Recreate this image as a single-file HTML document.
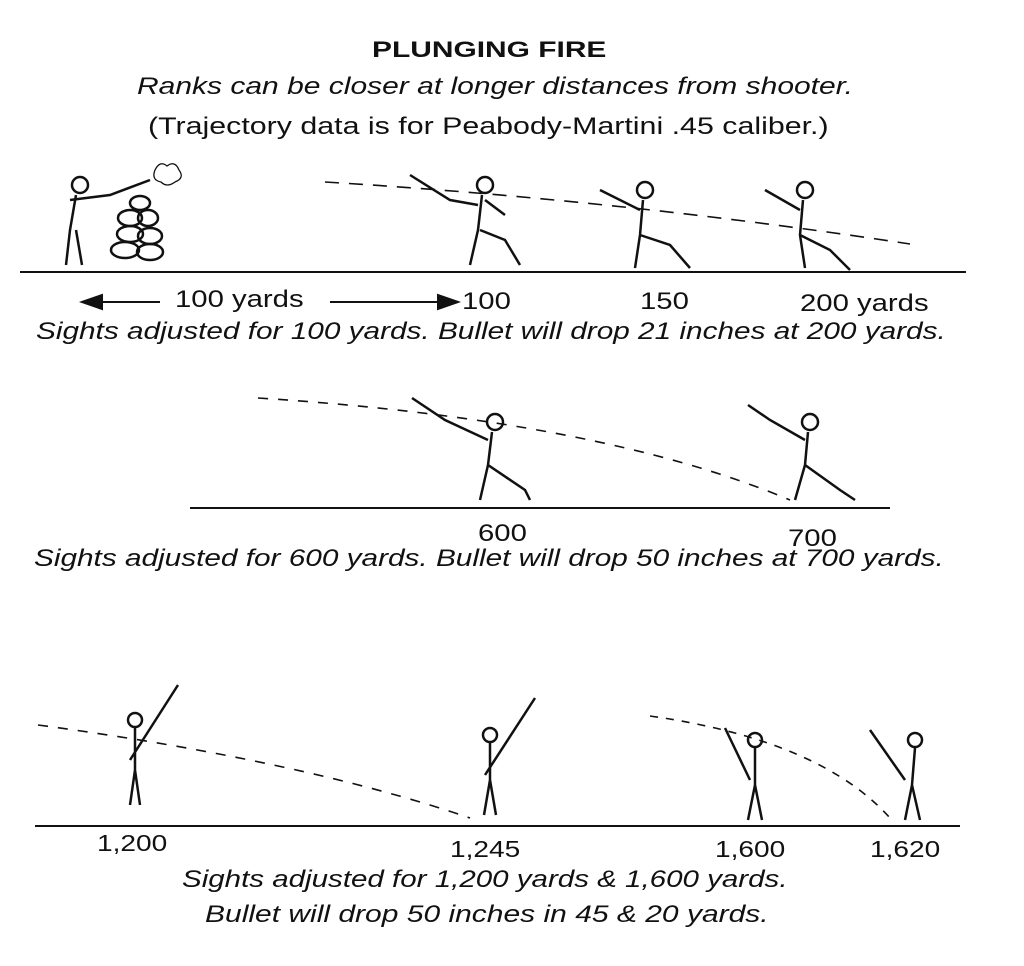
<!DOCTYPE html>
<html><head><style>
body{margin:0;background:#fff;}
.t{position:absolute;font-family:"Liberation Sans",sans-serif;color:#111;white-space:nowrap;transform:scaleX(1.22);transform-origin:0 0;}
.i{font-style:italic;}
</style></head><body>
<div style="position:relative;width:1024px;height:966px;overflow:hidden;">
<svg width="1024" height="966" style="position:absolute;left:0;top:0" stroke="#111" fill="none" stroke-width="2">
<line x1="20" y1="272" x2="966" y2="272"/>
<line x1="190" y1="508" x2="890" y2="508"/>
<line x1="35" y1="826" x2="960" y2="826"/>
<path d="M325 182 Q620 200 910 244" stroke-dasharray="14,10" stroke-width="1.6"/>
<path d="M258 398 Q600 420 790 500" stroke-dasharray="10,10" stroke-width="1.6"/>
<path d="M38 725 Q300 760 470 818" stroke-dasharray="10,10" stroke-width="1.6"/>
<path d="M650 716 Q820 740 890 818" stroke-dasharray="8,8" stroke-width="1.6"/>
<line x1="95" y1="302" x2="160" y2="302"/>
<polygon points="82,302 102,295 102,309" fill="#111"/>
<line x1="330" y1="302" x2="440" y2="302"/>
<polygon points="458,302 438,295 438,309" fill="#111"/>
<g stroke-width="2.5">
<circle cx="80" cy="185" r="8"/><path d="M76 195 L70 230 L66 265 M76 230 L82 265 M70 200 L110 195 L150 180"/>
<ellipse cx="125" cy="250" rx="14" ry="8"/><ellipse cx="150" cy="252" rx="13" ry="8"/><ellipse cx="130" cy="234" rx="13" ry="8"/><ellipse cx="150" cy="236" rx="12" ry="8"/><ellipse cx="130" cy="218" rx="12" ry="8"/><ellipse cx="148" cy="218" rx="10" ry="8"/><ellipse cx="140" cy="203" rx="10" ry="7"/>
<path d="M155 170 q5 -10 12 -4 q8 -6 12 4 q6 8 -4 12 q-8 6 -14 0 q-10 -2 -6 -12" stroke-width="1.3"/>
</g>
<g stroke-width="2.5">
<circle cx="485" cy="185" r="8"/><path d="M482 195 L478 230 L470 265 M480 230 L505 240 L520 265 M478 205 L450 200 L410 175 M485 200 L505 215"/>
<circle cx="645" cy="190" r="8"/><path d="M643 200 L640 235 L635 268 M640 235 L670 245 L690 268 M640 210 L600 190"/>
<circle cx="805" cy="190" r="8"/><path d="M803 200 L800 235 L805 268 M800 235 L830 250 L850 270 M800 210 L765 190"/>
<circle cx="495" cy="422" r="8"/><path d="M492 432 L488 465 L480 500 M488 465 L525 490 L530 500 M488 440 L445 420 L412 398"/>
<circle cx="810" cy="422" r="8"/><path d="M808 432 L805 465 L795 500 M805 465 L840 490 L855 500 M805 440 L770 420 L748 405"/>
<circle cx="135" cy="720" r="7"/><path d="M135 728 L135 770 L130 805 M135 770 L140 805 M130 760 L178 685"/>
<circle cx="490" cy="735" r="7"/><path d="M490 743 L490 780 L484 815 M490 780 L496 815 M485 775 L535 698"/>
<circle cx="755" cy="740" r="7"/><path d="M755 748 L755 785 L748 820 M755 785 L762 820 M750 780 L725 728"/>
<circle cx="915" cy="740" r="7"/><path d="M915 748 L912 785 L905 820 M912 785 L920 820 M905 780 L870 730"/>
</g>
</svg>
<div class="t" style="left:372px;top:37px;font-size:22px;font-weight:bold;transform:scaleX(1.36)">PLUNGING FIRE</div>
<div class="t i" style="left:137px;top:73px;font-size:24px;transform:scaleX(1.25)">Ranks can be closer at longer distances from shooter.</div>
<div class="t" style="left:148px;top:113px;font-size:24px;transform:scaleX(1.265)">(Trajectory data is for Peabody-Martini .45 caliber.)</div>
<div class="t" style="left:175px;top:286px;font-size:24px;">100 yards</div>
<div class="t" style="left:462px;top:288px;font-size:24px;">100</div>
<div class="t" style="left:640px;top:288px;font-size:24px;">150</div>
<div class="t" style="left:800px;top:290px;font-size:24px;">200 yards</div>
<div class="t i" style="left:36px;top:318px;font-size:24.4px;">Sights adjusted for 100 yards. Bullet will drop 21 inches at 200 yards.</div>
<div class="t" style="left:478px;top:520px;font-size:24px;">600</div>
<div class="t" style="left:788px;top:525px;font-size:24px;">700</div>
<div class="t i" style="left:34px;top:545px;font-size:24.4px;">Sights adjusted for 600 yards. Bullet will drop 50 inches at 700 yards.</div>
<div class="t" style="left:97px;top:830px;font-size:23px;">1,200</div>
<div class="t" style="left:450px;top:836px;font-size:23px;">1,245</div>
<div class="t" style="left:715px;top:836px;font-size:23px;">1,600</div>
<div class="t" style="left:870px;top:836px;font-size:23px;">1,620</div>
<div class="t i" style="left:182px;top:866px;font-size:24px;transform:scaleX(1.23)">Sights adjusted for 1,200 yards &amp; 1,600 yards.</div>
<div class="t i" style="left:205px;top:901px;font-size:24px;transform:scaleX(1.25)">Bullet will drop 50 inches in 45 &amp; 20 yards.</div>
</div>
</body></html>
